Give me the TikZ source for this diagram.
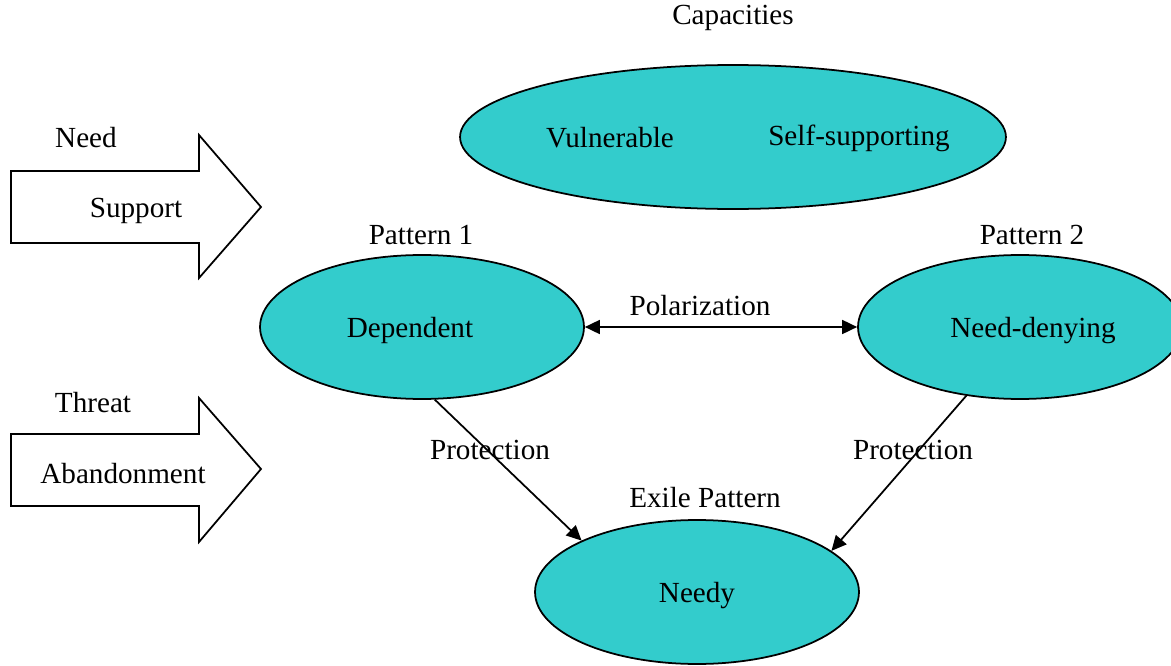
\documentclass[tikz,border=0pt]{standalone}
\usepackage{fontspec}
\setmainfont{Liberation Serif}
\usepackage{tikz}
\usetikzlibrary{shapes.geometric, arrows.meta}

\definecolor{tealfill}{HTML}{33CCCC}

\tikzset{
  oval/.style={ellipse, draw, line width=1pt, fill=tealfill, inner sep=0pt,
    minimum width=6.48cm, minimum height=2.88cm, text height=0.42cm, text depth=0pt},
  lbl/.style={inner sep=0pt},
  tip/.tip={Triangle[length=0.3cm, width=0.28cm]},
  link/.style={line width=1pt, -tip},
  bigarrow/.style={draw, line width=1pt, fill=white}
}

\begin{document}
\begin{tikzpicture}[x=0.02cm, y=-0.02cm, font=\fontsize{16.6}{20}\selectfont]
            \useasboundingbox (0,0) rectangle (1171,666);

            % capacities
            \node[lbl] (cap) at (733,18) {Capacities};
            \node[oval, minimum width=10.92cm] (capell) at (733,137) {};
            \node[lbl] (vuln) at (610,138) {Vulnerable};
            \node[lbl] (selfsup) at (859,138) {Self-supporting};

            % block arrows
            \draw[bigarrow] (11,171) -- (199,171) -- (199,135) -- (261,207)
                -- (199,278) -- (199,243) -- (11,243) -- cycle;
            \node[lbl] (need) at (86,138) {Need};
            \node[lbl] (support) at (136,211) {Support};

            \draw[bigarrow] (11,434) -- (199,434) -- (199,398) -- (261,469)
                -- (199,542) -- (199,506) -- (11,506) -- cycle;
            \node[lbl] (threat) at (93,403) {Threat};
            \node[lbl] (abandon) at (123,474) {Abandonment};

            % patterns
            \node[lbl] (pat1) at (421,235) {Pattern 1};
            \node[oval] (dep) at (422,327) {Dependent\hspace*{0.48cm}};

            \node[lbl] (pat2) at (1032,235) {Pattern 2};
            \node[oval] (denying) at (1020,327) {\hspace*{0.52cm}Need-denying};

            \node[lbl] (exile) at (705,498) {Exile Pattern};
            \node[oval] (needy) at (697,592) {Needy};

            % connectors
            \draw[link, tip-tip] (dep.east) -- (denying.west);
            \node[lbl] (polar) at (700,306) {Polarization};

            \draw[link] (dep.-80) -- (needy.156);
            \node[lbl] (prot1) at (490,450) {Protection};

            \draw[link] (denying.-128) -- (needy.17);
            \node[lbl] (prot2) at (913,450) {Protection};
        \end{tikzpicture}
\end{document}
